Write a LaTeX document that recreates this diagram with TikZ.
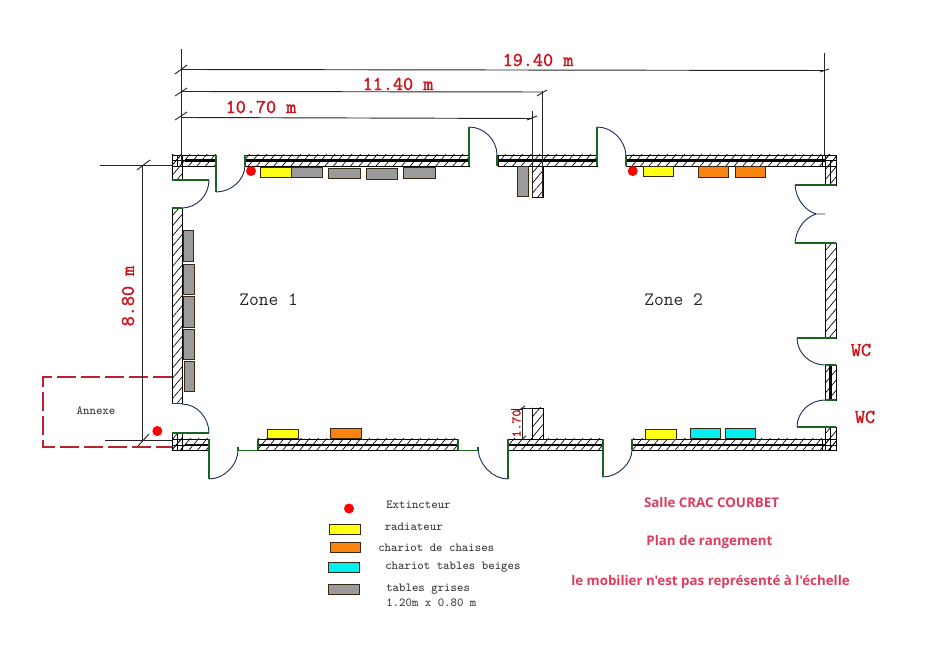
\documentclass[tikz,border=0pt]{standalone}
\usepackage{fontspec}
\newfontfamily\pinkfont{Open Sans}
\newfontfamily\dimfont{Latin Modern Mono}[FakeBold=1.6]
\usetikzlibrary{patterns.meta}
\definecolor{dimred}{RGB}{205,20,30}
\definecolor{annexred}{RGB}{185,35,45}
\definecolor{pinkred}{RGB}{222,60,95}
\definecolor{doorgreen}{RGB}{25,100,35}
\definecolor{doorblue}{RGB}{30,50,95}
\definecolor{furnyellow}{RGB}{255,255,20}
\definecolor{furnorange}{RGB}{250,130,15}
\definecolor{furncyan}{RGB}{0,240,240}
\definecolor{furngray}{RGB}{155,155,155}
\tikzset{
  x=0.75pt,y=-0.75pt,
  wall/.style={draw=black,line width=0.6pt,pattern={Lines[angle=50,distance=4.9pt,line width=0.5pt]},pattern color=black},
  core/.style={line width=1.6pt,black},
  thinl/.style={line width=0.6pt,black},
  dimline/.style={line width=0.7pt,black!85},
  leaf/.style={line width=0.8pt,doorgreen},
  swing/.style={line width=0.7pt,doorblue},
  furn/.style={draw=black!70!brown,line width=0.6pt},
  yel/.style={furn,fill=furnyellow},
  ora/.style={furn,fill=furnorange},
  cya/.style={furn,fill=furncyan},
  gry/.style={furn,fill=furngray},
  dot/.style={circle,fill=red,inner sep=0pt,minimum size=7.5pt},
  dimtxt/.style={text=dimred,inner sep=0pt,font=\fontsize{14.7pt}{15pt}\selectfont\dimfont},
  legtxt/.style={text=black!80,inner sep=0pt,anchor=west,align=left,font=\fontsize{9.2pt}{10.5pt}\selectfont\ttfamily},
  zonetxt/.style={text=black!85,inner sep=0pt,font=\fontsize{14.2pt}{15pt}\selectfont\ttfamily},
  pinktxt/.style={text=pinkred,inner sep=0pt,font=\fontsize{10pt}{11pt}\selectfont\pinkfont\bfseries},
}
\begin{document}
\begin{tikzpicture}
\useasboundingbox[fill=white] (0,0) rectangle (931,655);
% --- walls
\path[wall] (172,155) rectangle (216,166);
\path[wall] (172,155) rectangle (182,180);
\path[wall] (245,155) rectangle (469,166);
\path[wall] (498,155) rectangle (597,166);
\path[wall] (626,155) rectangle (836,166);
\path[wall] (825,155) rectangle (836,185);
\path[wall] (172,208) rectangle (182,403);
\path[wall] (825,243) rectangle (836,338);
\path[wall] (825,365) rectangle (836,400);
\path[wall] (825,427) rectangle (836,450);
\path[wall] (172,439) rectangle (209,450);
\path[wall] (172,433) rectangle (182,450);
\path[wall] (258,439) rectangle (458,450);
\path[wall] (508,439) rectangle (603,450);
\path[wall] (632,439) rectangle (836,450);
\path[wall] (532,166) rectangle (543,197);
\path[wall] (532,408) rectangle (543,439);
% --- wall cores
\draw[core] (185,160.5) -- (216,160.5);
\draw[core] (245,160.5) -- (469,160.5);
\draw[core] (498,160.5) -- (597,160.5);
\draw[core] (626,160.5) -- (825,160.5);
\draw[core] (185,445) -- (209,445);
\draw[core] (258,445) -- (458,445);
\draw[core] (508,445) -- (603,445);
\draw[core] (632,445) -- (825,445);
\draw[core] (830.5,366) -- (830.5,400);
\draw[thinl] (177,155) -- (177,166);
\draw[thinl] (172,160.5) -- (185,160.5);
\draw[thinl] (177,433) -- (177,450);
\draw[thinl] (172,445) -- (185,445);
\draw[thinl] (822.5,155) -- (822.5,166);
\draw[thinl] (830,160.5) -- (830,185);
\draw[thinl] (822.5,439) -- (822.5,450);
\draw[thinl] (830,427) -- (830,450);
\draw[thinl] (825,160.5) -- (836,160.5);
\draw[thinl] (825,445) -- (836,445);
% --- doors
\draw[leaf] (172,180) -- (209,180);
\draw[swing] (209,180) .. controls (209,195) and (197,208) .. (182,208);
\draw[leaf] (172,208) -- (182,208);
\draw[leaf] (216,155) -- (216,192);
\draw[swing] (216,192) .. controls (231,192) and (245,180) .. (245,165);
\draw[leaf] (245,155) -- (245,166);
\draw[leaf] (469,166) -- (469,127);
\draw[swing] (469,127) .. controls (484,127) and (497,140) .. (497,155);
\draw[leaf] (497,155) -- (497,166);
\draw[leaf] (597,166) -- (597,127);
\draw[swing] (597,127) .. controls (612,127) and (625,140) .. (626,155);
\draw[leaf] (626,155) -- (626,166);
\draw[leaf] (836,185) -- (795,185);
\draw[swing] (795,185) .. controls (796,200) and (806,211) .. (816,214) -- (825,214);
\draw[leaf] (836,243) -- (795,243);
\draw[swing] (795,243) .. controls (796,228) and (806,217) .. (816,214);
\draw[leaf] (836,338) -- (797,338);
\draw[swing] (797,338) .. controls (797,353) and (810,365) .. (825,365);
\draw[leaf] (825,365) -- (836,365);
\draw[leaf] (836,427) -- (797,427);
\draw[swing] (797,427) .. controls (797,412) and (810,400) .. (825,400);
\draw[leaf] (825,400) -- (836,400);
\draw[leaf] (172,433) -- (209,433);
\draw[swing] (209,433) .. controls (209,418) and (197,404) .. (182,404);
\draw[leaf] (172,403.5) -- (182,403.5);
\draw[leaf] (209,439) -- (209,479);
\draw[swing] (209,479) .. controls (224,479) and (238,465) .. (238,450);
\draw[leaf] (238,447) -- (238,450.5) -- (258,450.5) -- (258,439);
\draw[leaf] (458,439) -- (458,450.5) -- (478,450.5) -- (478,447);
\draw[swing] (478,449) .. controls (479,465) and (493,479) .. (508,479);
\draw[leaf] (508,479) -- (508,439);
\draw[leaf] (603,439) -- (603,477);
\draw[swing] (603,477) .. controls (618,477) and (632,463) .. (632,450);
\draw[leaf] (632,439) -- (632,450);
% --- annexe
\draw[annexred,line width=0.9pt,dash pattern=on 14pt off 4pt] (172,377) -- (43,377) -- (43,447) -- (172,447);
% --- dimension lines
\draw[dimline] (181.7,49) -- (181.7,165);
\draw[dimline] (181.7,69.5) -- (825,70.5);
\draw[dimline] (181.7,91.5) -- (542,92);
\draw[dimline] (181.7,117.5) -- (532,118.5);
\draw[dimline] (542.5,91) -- (542.5,198);
\draw[dimline] (532.5,111) -- (532.5,197);
\draw[dimline] (824.7,53) -- (824.7,155);
\draw[dimline] (175,74) -- (187,65);
\draw[dimline] (175,96) -- (187,88);
\draw[dimline] (175,120) -- (187,112);
\draw[dimline] (537,96) -- (547,90);
\draw[dimline] (527,120) -- (537,116);
\draw[dimline] (820,72) -- (829,69);
\draw[dimline] (100,165.5) -- (172,165.5);
\draw[dimline] (142.5,166) -- (142.5,440);
\draw[dimline] (137,170) -- (150,160);
\draw[dimline] (105,440) -- (172,440);
\draw[dimline] (138,446) -- (149,434);
\draw[dimline] (522,408) -- (522,439);
\draw[dimline] (511,409) -- (522,409);
\draw[dimline] (518,411) -- (525,406);
\draw[dimline] (522,408) -- (532,408);
\draw[dimline] (522,439) -- (526,436);
% --- dimension texts
\node[dimtxt] (d1940) at (538,60) {19.40 m};
\node[dimtxt] (d1140) at (398,84) {11.40 m};
\node[dimtxt] (d1070) at (261,107) {10.70 m};
\node[dimtxt,rotate=90] (d880) at (128,296) {8.80 m};
\node[dimtxt,rotate=90,font=\fontsize{9.8pt}{11pt}\selectfont\dimfont] (d170) at (516.5,423.5) {1.70};
\node[dimtxt] (wc1) at (861,350) {WC};
\node[dimtxt] (wc2) at (865,417) {WC};
% --- zones
\node[zonetxt] (z1) at (268.5,300) {Zone 1};
\node[zonetxt] (z2) at (673.5,300) {Zone 2};
\node[legtxt,anchor=center] (annexe) at (96,411) {Annexe};
% --- furniture
\node[dot] (e1) at (251,171) {};
\node[dot] (e2) at (632.7,171) {};
\node[dot] (e3) at (157.3,431) {};
\path[yel] (260,167) rectangle (291,177);
\path[gry] (291.5,167) rectangle (322.5,177.5);
\path[gry] (328.5,168) rectangle (360,178);
\path[gry] (366.5,168.5) rectangle (397.5,179);
\path[gry] (403,167.5) rectangle (435,178);
\path[gry] (517,166.5) rectangle (528,196.5);
\path[yel] (643,166.5) rectangle (673.5,176.5);
\path[ora] (698,166.5) rectangle (728.5,177);
\path[ora] (735,166.5) rectangle (765.5,177);
\path[gry] (183,230) rectangle (193.5,261);
\path[gry] (183.5,264.5) rectangle (194,294);
\path[gry] (183.5,296.5) rectangle (194,327);
\path[gry] (183.5,329.5) rectangle (194,359);
\path[gry] (184,361.5) rectangle (194.5,391.5);
\path[yel] (267,429) rectangle (298,438.5);
\path[ora] (330,428) rectangle (361,438.5);
\path[yel] (645.5,429.5) rectangle (676,439);
\path[cya] (690,428.5) rectangle (720.5,438.5);
\path[cya] (725.5,428.5) rectangle (755.5,438.5);
% --- legend
\node[dot] (le) at (349,508.5) {};
\path[yel] (329,524.5) rectangle (360.5,534);
\path[ora] (330,542.5) rectangle (360.5,552.5);
\path[cya] (328.5,562.5) rectangle (359,572);
\path[gry] (328,584) rectangle (359.5,594.5);
\node[legtxt] (t1) at (386,505) {Extincteur};
\node[legtxt] (t2) at (384.5,527) {radiateur};
\node[legtxt] (t3) at (378,547.5) {chariot de chaises};
\node[legtxt] (t4) at (385,567) {chariot tables beiges};
\node[legtxt] (t5) at (386,595.5) {tables grises\\[0.5pt]1.20m x 0.80 m};
% --- notes
\node[pinktxt] (n1) at (711.5,502.5) {Salle CRAC COURBET};
\node[pinktxt] (n2) at (709.5,542.5) {Plan de rangement};
\node[pinktxt] (n3) at (710.5,582) {le mobilier n'est pas représenté à l'échelle};
\end{tikzpicture}
\end{document}
